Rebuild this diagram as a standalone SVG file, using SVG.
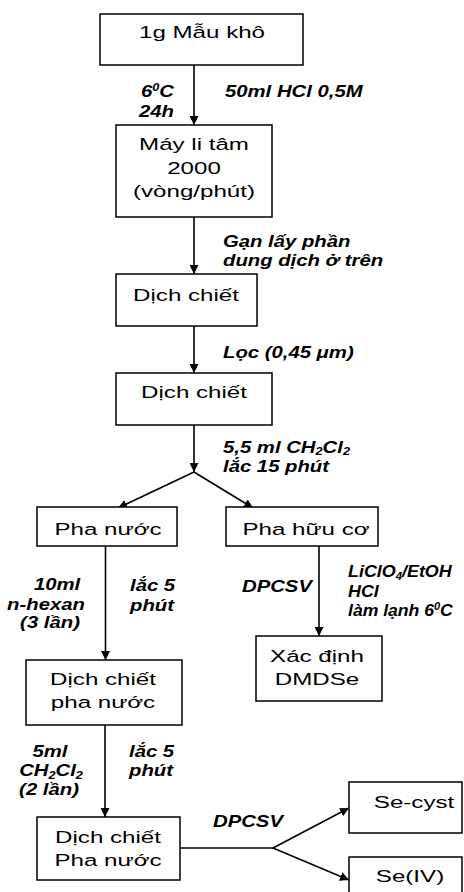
<svg xmlns="http://www.w3.org/2000/svg" width="464" height="892" viewBox="0 0 464 892">
<defs>
<style>
.box{fill:#fff;stroke:#000;stroke-width:1.5}
.t{font-family:"Liberation Sans",Arial,sans-serif;font-size:17px;fill:#000;text-anchor:middle}
.l{font-family:"Liberation Sans",Arial,sans-serif;font-size:16px;font-weight:bold;font-style:italic;fill:#000}
.c{stroke:#000;stroke-width:1.6;fill:none}
.sm{font-size:10px}
</style>
<marker id="ah" markerWidth="9" markerHeight="9" refX="9" refY="4.5" orient="auto" markerUnits="userSpaceOnUse">
<path d="M0,0 L9,4.5 L0,9 Z" fill="#000"/>
</marker>
</defs>
<rect width="464" height="892" fill="#fff"/>

<g id="connectors">
<line class="c" x1="194" y1="65" x2="194" y2="125" marker-end="url(#ah)"/>
<line class="c" x1="194" y1="217" x2="194" y2="274" marker-end="url(#ah)"/>
<line class="c" x1="194" y1="326" x2="194" y2="373" marker-end="url(#ah)"/>
<line class="c" x1="194" y1="425" x2="194" y2="472" marker-end="url(#ah)"/>
<line class="c" x1="194" y1="472" x2="118" y2="508" marker-end="url(#ah)"/>
<line class="c" x1="194" y1="472" x2="253" y2="508" marker-end="url(#ah)"/>
<line class="c" x1="105.5" y1="546" x2="105.5" y2="660" marker-end="url(#ah)"/>
<line class="c" x1="319" y1="546" x2="319" y2="636" marker-end="url(#ah)"/>
<line class="c" x1="105" y1="725" x2="105" y2="817" marker-end="url(#ah)"/>
<line class="c" x1="180" y1="848" x2="273" y2="848"/>
<line class="c" x1="273" y1="848" x2="349" y2="808" marker-end="url(#ah)"/>
<line class="c" x1="273" y1="848" x2="349" y2="880" marker-end="url(#ah)"/>
</g>

<g id="n1">
<rect class="box" x="100" y="14" width="203" height="51"/>
<text class="t" transform="translate(202,38) scale(1.42,1)">1g Mẫu khô</text>
</g>
<g id="n2">
<rect class="box" x="116" y="125" width="156" height="92"/>
<text class="t" transform="translate(194,150) scale(1.42,1)">Máy li tâm</text>
<text class="t" transform="translate(194,174) scale(1.42,1)">2000</text>
<text class="t" transform="translate(194,197) scale(1.42,1)">(vòng/phút)</text>
</g>
<g id="n3">
<rect class="box" x="116" y="274" width="141" height="52"/>
<text class="t" transform="translate(186,301) scale(1.42,1)">Dịch chiết</text>
</g>
<g id="n4">
<rect class="box" x="116" y="373" width="156" height="52"/>
<text class="t" transform="translate(194,398) scale(1.42,1)">Dịch chiết</text>
</g>
<g id="n5">
<rect class="box" x="37" y="507" width="140" height="39"/>
<text class="t" transform="translate(108,535) scale(1.42,1)">Pha nước</text>
</g>
<g id="n6">
<rect class="box" x="226" y="507" width="152" height="39"/>
<text class="t" transform="translate(306,535) scale(1.42,1)">Pha hữu cơ</text>
</g>
<g id="n7">
<rect class="box" x="256" y="636" width="126" height="65"/>
<text class="t" transform="translate(317,662) scale(1.42,1)">Xác định</text>
<text class="t" transform="translate(317,685) scale(1.42,1)">DMDSe</text>
</g>
<g id="n8">
<rect class="box" x="26" y="660" width="156" height="65"/>
<text class="t" transform="translate(103,685) scale(1.42,1)">Dịch chiết</text>
<text class="t" transform="translate(103,708) scale(1.42,1)">pha nước</text>
</g>
<g id="n9">
<rect class="box" x="37" y="817" width="143" height="63"/>
<text class="t" transform="translate(108,843) scale(1.42,1)">Dịch chiết</text>
<text class="t" transform="translate(108,866) scale(1.42,1)">Pha nước</text>
</g>
<g id="n10">
<rect class="box" x="349" y="782" width="113" height="51"/>
<text class="t" transform="translate(414,808) scale(1.42,1)">Se-cyst</text>
</g>
<g id="n11">
<rect class="box" x="349" y="857" width="113" height="45"/>
<text class="t" transform="translate(410,882) scale(1.42,1)">Se(IV)</text>
</g>

<g id="labels">
<text class="l" text-anchor="end" transform="translate(174,97) scale(1.27,1)">6<tspan class="sm" dy="-6">0</tspan><tspan dy="6">C</tspan></text>
<text class="l" text-anchor="end" transform="translate(174,117) scale(1.27,1)">24h</text>
<text class="l" transform="translate(225,97) scale(1.27,1)">50ml HCl 0,5M</text>
<text class="l" transform="translate(223,247) scale(1.27,1)">Gạn lấy phần</text>
<text class="l" transform="translate(223,266) scale(1.27,1)">dung dịch ở trên</text>
<text class="l" transform="translate(223,358) scale(1.27,1)">Lọc (0,45 μm)</text>
<text class="l" transform="translate(223,453) scale(1.27,1)">5,5 ml CH<tspan class="sm" dy="2">2</tspan><tspan dy="-2">Cl</tspan><tspan class="sm" dy="2">2</tspan></text>
<text class="l" transform="translate(223,472) scale(1.27,1)">lắc 15 phút</text>
<text class="l" text-anchor="middle" transform="translate(57,590) scale(1.27,1)">10ml</text>
<text class="l" text-anchor="middle" transform="translate(46,610) scale(1.27,1)">n-hexan</text>
<text class="l" text-anchor="middle" transform="translate(50,628) scale(1.27,1)">(3 lần)</text>
<text class="l" transform="translate(130,591) scale(1.27,1)">lắc 5</text>
<text class="l" transform="translate(130,611) scale(1.27,1)">phút</text>
<text class="l" transform="translate(242,592) scale(1.27,1)">DPCSV</text>
<text class="l" transform="translate(348,577) scale(1.12,1)">LiClO<tspan class="sm" dy="3">4</tspan><tspan dy="-3">/EtOH</tspan></text>
<text class="l" transform="translate(348,597) scale(1.12,1)">HCl</text>
<text class="l" transform="translate(348,616) scale(1.1,1)">làm lạnh 6<tspan class="sm" dy="-6">0</tspan><tspan dy="6">C</tspan></text>
<text class="l" text-anchor="middle" transform="translate(50,757) scale(1.27,1)">5ml</text>
<text class="l" text-anchor="middle" transform="translate(51,776) scale(1.27,1)">CH<tspan class="sm" dy="3">2</tspan><tspan dy="-3">Cl</tspan><tspan class="sm" dy="3">2</tspan></text>
<text class="l" text-anchor="middle" transform="translate(49,795) scale(1.27,1)">(2 lần)</text>
<text class="l" transform="translate(129,757) scale(1.27,1)">lắc 5</text>
<text class="l" transform="translate(129,776) scale(1.27,1)">phút</text>
<text class="l" transform="translate(213,827) scale(1.27,1)">DPCSV</text>
</g>
</svg>
